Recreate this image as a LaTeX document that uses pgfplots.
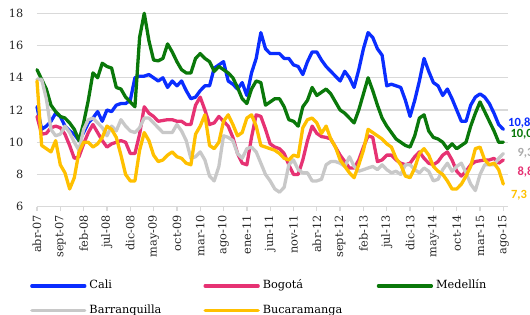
\documentclass[border=0pt]{standalone}
\usepackage{pgfplots}
\pgfplotsset{compat=1.18}
\usepackage{pgfplotstable}
\usepackage{fontspec}
\setmainfont{DejaVu Serif}
\newfontfamily\labfont{Carlito}
\definecolor{cali}{RGB}{10,45,255}
\definecolor{bogota}{RGB}{230,50,115}
\definecolor{medellin}{RGB}{10,120,10}
\definecolor{barranq}{RGB}{200,200,200}
\definecolor{bucara}{RGB}{255,192,0}
\definecolor{gridc}{RGB}{217,217,217}

\pgfplotstableread{
i cali bogota medellin barranq bucara
0 12.2 11.6 14.5 13.9 13.8
1 10.8 10.5 13.9 13.9 9.8
2 11.0 10.55 13.3 12.7 9.6
3 11.3 10.9 12.3 10.8 9.4
4 11.8 11.0 11.9 10.4 10.1
5 11.6 10.9 11.6 10.5 8.6
6 11.0 10.5 11.5 11.0 8.1
7 10.7 9.8 11.2 10.6 7.1
8 10.5 9.0 10.8 10.0 7.8
9 10.1 9.1 10.1 9.5 9.4
10 10.6 9.9 11.2 10.8 10.0
11 11.2 10.6 12.6 11.4 10.0
12 11.5 11.1 14.3 11.5 9.7
13 11.9 10.6 14.0 11.2 9.9
14 11.3 10.1 14.9 10.9 10.3
15 12.0 9.7 14.7 10.4 11.0
16 11.9 9.9 14.6 11.0 10.8
17 12.3 10.0 13.4 10.7 10.3
18 12.4 10.1 13.3 11.4 9.2
19 12.4 10.0 12.8 11.0 8.0
20 12.6 9.3 12.5 10.7 7.6
21 14.0 9.3 12.2 10.6 7.6
22 14.1 10.5 16.5 10.9 9.5
23 14.1 12.2 18.0 11.5 10.6
24 14.2 11.8 16.3 11.5 10.1
25 14.0 11.6 15.1 11.2 9.2
26 13.8 11.3 15.05 10.9 8.8
27 14.0 11.35 15.2 10.6 8.9
28 13.4 11.4 16.1 10.6 9.2
29 13.8 11.4 15.6 10.6 9.4
30 13.5 11.3 15.0 11.1 9.1
31 13.8 11.3 14.5 10.7 9.0
32 13.2 11.1 14.3 10.1 8.7
33 12.7 11.1 14.3 9.0 8.6
34 12.8 12.3 15.2 9.1 10.5
35 13.2 12.8 15.5 9.4 11.0
36 13.5 12.0 15.2 8.9 11.7
37 13.5 11.1 15.0 7.9 9.8
38 14.6 11.2 14.4 7.6 9.6
39 14.8 11.6 14.7 8.5 10.0
40 15.0 11.3 14.5 10.4 11.3
41 13.8 11.0 14.3 10.3 11.7
42 13.6 10.3 14.0 10.1 11.1
43 13.3 9.3 13.4 9.3 10.4
44 13.7 8.7 12.7 9.0 10.6
45 12.9 8.6 12.4 9.6 11.5
46 14.3 10.3 13.3 9.7 11.7
47 15.2 11.7 13.8 9.4 11.0
48 16.8 11.6 13.7 8.7 9.8
49 15.8 10.8 12.3 8.0 9.7
50 15.5 9.9 12.5 7.6 9.6
51 15.5 9.7 12.7 7.1 9.5
52 15.5 9.6 12.7 6.9 9.3
53 15.2 9.3 12.2 7.2 9.0
54 15.2 8.6 11.4 8.6 8.9
55 14.8 8.0 11.3 8.9 9.2
56 14.7 8.0 11.0 8.3 9.1
57 14.2 8.9 12.2 8.1 10.9
58 15.0 10.1 12.6 8.1 11.4
59 15.6 11.0 13.4 7.6 11.5
60 15.6 10.55 12.9 7.6 11.2
61 15.1 10.35 13.1 7.7 10.55
62 14.7 10.3 13.3 8.6 11.0
63 14.4 10.2 13.0 8.8 10.2
64 14.1 9.7 12.5 8.8 9.7
65 13.8 9.2 12.0 8.7 8.9
66 14.4 8.8 11.8 8.5 8.5
67 14.0 8.4 11.5 9.1 8.1
68 13.4 8.4 11.2 8.5 7.8
69 14.5 8.9 12.0 8.2 8.6
70 15.8 9.7 13.0 8.3 9.5
71 16.8 10.4 14.0 8.4 10.8
72 16.5 10.3 13.2 8.5 10.6
73 15.8 8.8 12.3 8.3 10.4
74 15.4 8.9 11.5 8.6 10.2
75 13.5 9.2 11.0 8.3 9.9
76 13.6 9.2 10.6 8.1 9.7
77 13.5 8.9 10.2 8.2 9.0
78 13.4 8.7 10.0 8.0 8.6
79 12.6 8.6 9.8 8.6 7.9
80 11.6 8.7 9.7 8.6 7.8
81 12.6 9.1 10.4 8.3 8.4
82 13.8 9.4 11.5 8.1 9.3
83 15.2 9.0 11.7 8.4 9.6
84 14.4 8.7 10.7 8.2 9.2
85 13.7 8.6 10.3 7.6 8.5
86 13.5 8.8 10.2 7.7 8.2
87 12.9 9.2 10.0 8.3 8.0
88 13.3 9.4 9.6 8.7 7.6
89 12.7 8.9 9.9 8.2 7.1
90 12.0 8.2 9.6 8.5 7.1
91 11.3 7.9 9.8 8.7 7.4
92 11.3 8.2 10.0 8.1 7.9
93 12.3 8.6 11.0 7.4 8.5
94 12.8 8.8 11.8 7.0 9.6
95 13.0 8.85 12.5 8.0 9.7
96 12.8 8.9 11.9 8.6 8.9
97 12.4 8.9 11.3 8.6 8.6
98 11.8 9.0 10.7 8.6 8.7
99 11.1 8.7 10.0 9.0 8.3
100 10.8 8.9 10.0 9.3 7.4
}\datatable

\begin{document}
\begin{tikzpicture}
\useasboundingbox (0,0) rectangle (530bp,315bp);
\begin{axis}[
  at={(37bp,108.3bp)}, anchor=south west,
  scale only axis, width=471bp, height=193.4bp,
  xmin=0, xmax=101, ymin=6, ymax=18,
  axis line style={draw=none},
  ytick={6,8,...,18},
  ymajorgrids, grid style={draw=gridc, line width=1.3bp},
  xtick={0,5,...,100},
  xticklabels={abr-07,sept-07,feb-08,jul-08,dic-08,may-09,oct-09,mar-10,ago-10,ene-11,jun-11,nov-11,abr-12,sept-12,feb-13,jul-13,dic-13,may-14,oct-14,mar-15,ago-15},
  xtick pos=bottom, ytick pos=left,
  tick align=outside,
  ytick style={draw=none},
  xtick style={draw=gridc, line width=1.3bp},
  major tick length=4.5bp,
  tick label style={font=\fontsize{11.3bp}{13bp}\selectfont, text=black!85},
  xticklabel style={rotate=90, anchor=east, inner sep=0pt},
  yticklabel style={anchor=east, inner sep=0pt},
  xticklabel shift=3.8bp,
  yticklabel shift=9bp,
  /pgf/number format/assume math mode=true,
  clip=false,
  legend columns=3,
  legend style={
    at={(-0.0149,-0.374)}, anchor=north west,
    draw=none, fill=none, inner sep=0pt,
    font=\fontsize{11.3bp}{13bp}\selectfont,
    nodes={inner xsep=3bp, inner ysep=1.5bp, text width=111bp, text height=8bp, text depth=2.5bp, align=left},
    column sep=0pt, row sep=11bp,
  },
  legend image code/.code={\draw[#1] (0bp,0bp) -- (53bp,0bp);},
  every axis plot/.append style={line width=3.3bp, line join=round, line cap=round},
]
\addplot[cali] table[x=i,y=cali] {\datatable};
\addlegendentry{Cali}
\addplot[bogota] table[x=i,y=bogota] {\datatable};
\addlegendentry{Bogotá}
\addplot[medellin] table[x=i,y=medellin] {\datatable};
\addlegendentry{Medellín}
\addplot[barranq] table[x=i,y=barranq] {\datatable};
\addlegendentry{Barranquilla}
\addplot[bucara] table[x=i,y=bucara] {\datatable};
\addlegendentry{Bucaramanga}

\begin{scope}[every node/.style={anchor=west, inner sep=0pt, font=\labfont\bfseries\fontsize{12.5bp}{14bp}\selectfont}]
\node[text=cali] at (axis cs:101,11.2) {10,8};
\node[text=medellin] at (axis cs:101.5,10.5) {10,0};
\node[text=barranq!85!black] at (axis cs:103,9.33) {9,3};
\node[text=bogota] at (axis cs:103,8.15) {8,8};
\node[text=bucara] at (axis cs:101.6,6.69) {7,3};
\end{scope}
\end{axis}
\end{tikzpicture}
\end{document}
